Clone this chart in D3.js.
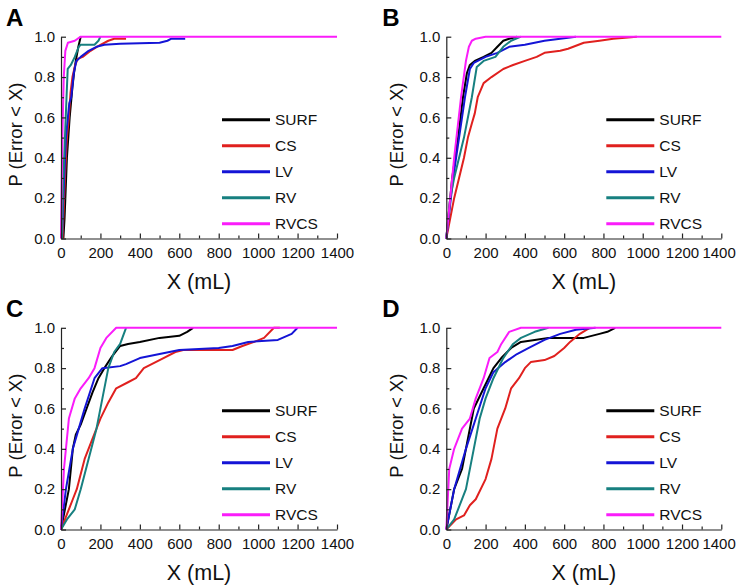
<!DOCTYPE html>
<html><head><meta charset="utf-8">
<script src="https://cdn.jsdelivr.net/npm/d3@7"></script>
<style>body{margin:0;background:#fff}svg{display:block}text{font-family:"Liberation Sans",Arial,sans-serif}</style>
</head><body><svg id="c" width="736" height="585"></svg>
<script>
const categories = ["SURF","CS","LV","RV","RVCS"];
const colors = ["#000000","#e0201e","#1414d6","#178080","#fa1cfa"];
const panelLabels = ["A","B","C","D"];
const xMajorTicks = [0,200,400,600,800,1000,1200,1400];
const xMinorTicks = [100,300,500,700,900,1100,1300];
const yMajorTicks = [0,0.2,0.4,0.6,0.8,1.0];
const yMinorTicks = [0.1,0.3,0.5,0.7,0.9];

// Panel A  [error mL, cumulative probability]
const A_SURF = [[12,0],[18,0.1],[22,0.2],[30,0.4],[44,0.6],[58,0.75],[66,0.82],[75,0.88],[88,0.95],[100,1]];
const A_CS = [[8,0],[14,0.15],[20,0.3],[30,0.5],[40,0.6],[48,0.72],[58,0.8],[72,0.86],[85,0.89],[110,0.9],[150,0.93],[200,0.96],[240,0.98],[270,0.99],[330,0.99]];
const A_LV = [[5,0],[12,0.2],[25,0.5],[35,0.6],[42,0.67],[52,0.7],[65,0.82],[78,0.88],[100,0.9],[140,0.93],[180,0.95],[220,0.96],[300,0.965],[500,0.97],[540,0.98],[560,0.99],[630,0.99]];
const A_RV = [[5,0],[12,0.3],[20,0.5],[28,0.7],[34,0.84],[50,0.86],[70,0.9],[90,0.95],[100,0.96],[170,0.96],[190,0.98],[200,1]];
const A_RVCS = [[0,0],[4,0.3],[8,0.55],[14,0.8],[22,0.93],[35,0.97],[70,0.98],[100,1],[1400,1]];

// Panel B
const B_SURF = [[0,0],[15,0.15],[30,0.3],[60,0.5],[85,0.7],[105,0.82],[120,0.86],[145,0.88],[190,0.9],[230,0.92],[260,0.95],[290,0.98],[320,0.99],[360,1]];
const B_CS = [[0,0],[20,0.1],[40,0.2],[90,0.4],[110,0.5],[130,0.57],[145,0.62],[160,0.7],[190,0.77],[230,0.8],[290,0.84],[340,0.86],[400,0.88],[460,0.9],[500,0.92],[580,0.93],[620,0.94],[700,0.97],[780,0.98],[850,0.99],[970,1]];
const B_LV = [[0,0],[35,0.3],[65,0.5],[95,0.7],[120,0.84],[140,0.87],[160,0.88],[200,0.9],[260,0.92],[320,0.95],[400,0.96],[450,0.97],[500,0.98],[580,0.99],[660,1]];
const B_RV = [[0,0],[20,0.2],[40,0.3],[90,0.5],[130,0.7],[155,0.85],[190,0.88],[220,0.89],[250,0.9],[290,0.95],[330,0.98],[380,1]];
const B_RVCS = [[0,0],[20,0.2],[40,0.4],[75,0.7],[100,0.88],[115,0.95],[130,0.98],[150,0.99],[200,1],[1400,1]];

// Panel C
const C_SURF = [[0,0],[20,0.1],[40,0.2],[60,0.4],[75,0.47],[100,0.52],[130,0.6],[160,0.68],[190,0.75],[220,0.8],[260,0.86],[300,0.91],[340,0.92],[400,0.93],[500,0.95],[600,0.96],[640,0.98],[670,1]];
const C_CS = [[0,0],[20,0.05],[60,0.15],[80,0.2],[120,0.35],[160,0.45],[200,0.55],[240,0.63],[280,0.7],[340,0.73],[380,0.75],[420,0.8],[460,0.82],[520,0.85],[580,0.88],[620,0.89],[870,0.89],[920,0.91],[980,0.93],[1030,0.95],[1080,1],[1110,1]];
const C_LV = [[0,0],[25,0.2],[60,0.4],[90,0.5],[120,0.6],[170,0.75],[210,0.8],[300,0.81],[330,0.82],[400,0.85],[500,0.87],[600,0.89],[800,0.9],[870,0.91],[950,0.93],[1100,0.94],[1170,0.97],[1200,1]];
const C_RV = [[0,0],[30,0.05],[70,0.1],[100,0.2],[140,0.35],[180,0.5],[210,0.65],[240,0.8],[270,0.88],[300,0.92],[330,1]];
const C_RVCS = [[0,0],[15,0.3],[40,0.55],[70,0.65],[100,0.7],[140,0.75],[170,0.8],[200,0.9],[230,0.95],[280,1],[1400,1]];

// Panel D
const D_SURF = [[0,0],[40,0.2],[80,0.3],[110,0.45],[140,0.6],[190,0.7],[240,0.8],[280,0.85],[330,0.9],[380,0.93],[450,0.94],[520,0.95],[700,0.95],[780,0.97],[820,0.98],[860,1]];
const D_CS = [[0,0],[50,0.05],[90,0.07],[120,0.12],[150,0.15],[200,0.25],[230,0.35],[260,0.5],[300,0.6],[330,0.7],[370,0.75],[400,0.8],[430,0.83],[500,0.84],[550,0.86],[600,0.9],[630,0.93],[680,0.97],[730,1]];
const D_LV = [[0,0],[40,0.2],[100,0.4],[150,0.55],[200,0.7],[240,0.78],[300,0.83],[360,0.87],[420,0.9],[500,0.94],[580,0.97],[660,0.99],[760,1]];
const D_RV = [[0,0],[40,0.05],[100,0.2],[140,0.4],[170,0.55],[200,0.65],[240,0.75],[290,0.85],[340,0.92],[380,0.95],[450,0.98],[520,1]];
const D_RVCS = [[0,0],[15,0.3],[40,0.4],[80,0.5],[120,0.55],[150,0.65],[190,0.75],[220,0.85],[260,0.88],[280,0.92],[320,0.98],[380,1],[1400,1]];

const panelData = [
  [A_SURF,A_CS,A_LV,A_RV,A_RVCS],
  [B_SURF,B_CS,B_LV,B_RV,B_RVCS],
  [C_SURF,C_CS,C_LV,C_RV,C_RVCS],
  [D_SURF,D_CS,D_LV,D_RV,D_RVCS]
];

const svg = d3.select("#c");
const layout = [
  {x0:61, x1:337, y0:238.5, y1:36.7},
  {x0:446.3, x1:721.3, y0:238.5, y1:36.7},
  {x0:61, x1:337, y0:529.5, y1:327.8},
  {x0:446.3, x1:721.3, y0:529.5, y1:327.8}
];

layout.forEach((L, i) => {
  const g = svg.append("g");
  const x = d3.scaleLinear().domain([0,1400]).range([L.x0, L.x1]);
  const y = d3.scaleLinear().domain([0,1]).range([L.y0, L.y1]);

  const line = d3.line().x(d => x(d[0])).y(d => y(d[1]));
  panelData[i].forEach((s, k) => {
    g.append("path").datum(s).attr("d", line)
      .attr("fill","none").attr("stroke",colors[k]).attr("stroke-width",2)
      .attr("stroke-linejoin","round");
  });

  // axes
  const xa = g.append("g").attr("transform",`translate(0,${L.y0})`)
    .call(d3.axisBottom(x).tickValues(xMajorTicks).tickSizeInner(-5).tickSizeOuter(0).tickPadding(9).tickFormat(d3.format("d")));
  g.append("g").attr("transform",`translate(0,${L.y0})`)
    .call(d3.axisBottom(x).tickValues(xMinorTicks).tickSizeInner(-3).tickSizeOuter(0).tickFormat(""))
    .select(".domain").remove();
  g.append("g").attr("transform",`translate(${L.x0},0)`)
    .call(d3.axisLeft(y).tickValues(yMajorTicks).tickSizeInner(-5).tickSizeOuter(0).tickPadding(6).tickFormat(d3.format(".1f")));
  g.append("g").attr("transform",`translate(${L.x0},0)`)
    .call(d3.axisLeft(y).tickValues(yMinorTicks).tickSizeInner(-3).tickSizeOuter(0).tickFormat(""))
    .select(".domain").remove();
  g.selectAll(".tick text").attr("font-size",15).attr("fill","#111").attr("font-family","Liberation Sans, Arial, sans-serif");
  g.selectAll(".domain, .tick line").attr("stroke","#222").attr("stroke-width",1.2);
  if (i % 2 === 1) {
    xa.selectAll(".tick").filter(d => d === 1400).select("text").attr("text-anchor","end").attr("dx", 0).attr("x", 14);
  }

  // titles
  g.append("text").attr("x",(L.x0+L.x1)/2).attr("y",L.y0+50)
    .attr("text-anchor","middle").attr("font-size",21.5).attr("fill","#111").text("X (mL)");
  g.append("text").attr("transform",`translate(${L.x0-(i%2===0?39:43)},${(L.y0+L.y1)/2-3}) rotate(-90)`)
    .attr("text-anchor","middle").attr("font-size",18.5).attr("fill","#111").text("P (Error < X)");
  g.append("text").attr("x",L.x0-(i%2===0?55:64)).attr("y",L.y1-11)
    .attr("font-size",24).attr("font-weight","bold").attr("fill","#000").text(panelLabels[i]);

  // legend
  const lx = L.x0 + (i%2===0 ? 161 : 160);
  categories.forEach((c,k) => {
    const ly = L.y1 + 83 + k*26;
    g.append("line").attr("x1",lx).attr("x2",lx+48).attr("y1",ly).attr("y2",ly)
      .attr("stroke",colors[k]).attr("stroke-width",3);
    g.append("text").attr("x",lx+53).attr("y",ly+5.5).attr("font-size",15.5).attr("fill","#111").text(c);
  });
});
</script></body></html>
